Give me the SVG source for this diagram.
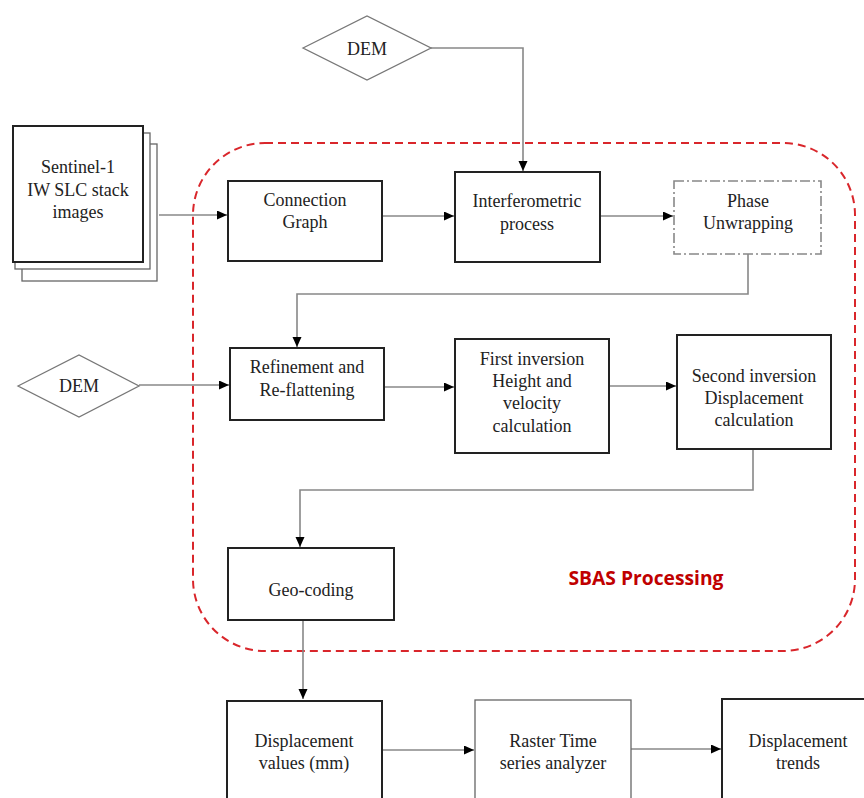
<svg xmlns="http://www.w3.org/2000/svg" width="864" height="798" viewBox="0 0 864 798">
<defs>
<marker id="arr" markerUnits="userSpaceOnUse" markerWidth="11" markerHeight="10" refX="10" refY="4.5" orient="auto">
<path d="M0,0 L10,4.5 L0,9 z" fill="#000"/>
</marker>
<style>
.t{font-family:"Liberation Serif","Times New Roman",serif;font-size:18px;fill:#222;text-anchor:middle}
.box{fill:#fff;stroke:#222;stroke-width:2}
.thin{fill:#fff;stroke:#666;stroke-width:1.3}
.dia{fill:#fff;stroke:#777;stroke-width:1.3}
.c{fill:none;stroke:#888;stroke-width:1.6}
</style>
</defs>
<rect width="864" height="798" fill="#fff"/>
<g id="sbas">
<rect x="193" y="143" width="662" height="508" rx="72" ry="72" fill="none" stroke="#d9262b" stroke-width="2" stroke-dasharray="8,5"/>
<text x="646" y="585" font-family="'Open Sans','Liberation Sans',sans-serif" font-weight="bold" font-size="19" fill="#c00000" text-anchor="middle" textLength="155" lengthAdjust="spacingAndGlyphs">SBAS Processing</text>
</g>
<g id="connectors">
<path class="c" d="M431,48 H523 V171" marker-end="url(#arr)"/>
<path class="c" d="M159,215 H227" marker-end="url(#arr)"/>
<path class="c" d="M382,216 H454" marker-end="url(#arr)"/>
<path class="c" d="M600,216 H673" marker-end="url(#arr)"/>
<path class="c" d="M748,254 V294 H297 V347" marker-end="url(#arr)"/>
<path class="c" d="M139,385 H229" marker-end="url(#arr)"/>
<path class="c" d="M384,387 H454" marker-end="url(#arr)"/>
<path class="c" d="M609,386 H676" marker-end="url(#arr)"/>
<path class="c" d="M753,449 V490 H300 V547" marker-end="url(#arr)"/>
<path class="c" d="M303,620 V699" marker-end="url(#arr)"/>
<path class="c" d="M382,750 H474" marker-end="url(#arr)"/>
<path class="c" d="M631,749 H721" marker-end="url(#arr)"/>
</g>
<g id="dem-top">
<polygon class="dia" points="303,48 367,16 431,48 367,80"/>
<text class="t" x="367" y="55" font-size="16.5">DEM</text>
</g>
<g id="sentinel">
<rect class="thin" x="22" y="144" width="135" height="137"/>
<rect class="thin" x="15" y="133" width="135" height="136"/>
<rect class="box" x="13" y="126" width="130" height="136" stroke-width="2.5"/>
<text class="t" x="78" y="173">Sentinel-1</text>
<text class="t" x="78" y="196">IW SLC stack</text>
<text class="t" x="78" y="218">images</text>
</g>
<g id="connection-graph">
<rect class="box" x="228" y="181" width="154" height="80"/>
<text class="t" x="305" y="206">Connection</text>
<text class="t" x="305" y="228">Graph</text>
</g>
<g id="interferometric">
<rect class="box" x="455" y="172" width="145" height="90" stroke-width="2.5"/>
<text class="t" x="527" y="207">Interferometric</text>
<text class="t" x="527" y="230">process</text>
</g>
<g id="phase-unwrapping">
<rect x="674" y="181" width="147" height="73" fill="#fff" stroke="#888" stroke-width="1.6" stroke-dasharray="10,3,2,3"/>
<text class="t" x="748" y="207">Phase</text>
<text class="t" x="748" y="229">Unwrapping</text>
</g>
<g id="dem-bottom">
<polygon class="dia" points="18,386 79,355 139,386 79,417"/>
<text class="t" x="79" y="392" font-size="15">DEM</text>
</g>
<g id="refinement">
<rect class="box" x="230" y="348" width="154" height="72"/>
<text class="t" x="307" y="373">Refinement and</text>
<text class="t" x="307" y="396">Re-flattening</text>
</g>
<g id="first-inversion">
<rect class="box" x="455" y="339" width="154" height="114"/>
<text class="t" x="532" y="365">First inversion</text>
<text class="t" x="532" y="387">Height and</text>
<text class="t" x="532" y="409">velocity</text>
<text class="t" x="532" y="432">calculation</text>
</g>
<g id="second-inversion">
<rect class="box" x="677" y="335" width="154" height="114"/>
<text class="t" x="754" y="382">Second inversion</text>
<text class="t" x="754" y="404">Displacement</text>
<text class="t" x="754" y="426">calculation</text>
</g>
<g id="geo-coding">
<rect class="box" x="228" y="548" width="166" height="72"/>
<text class="t" x="311" y="596">Geo-coding</text>
</g>
<g id="displacement-values">
<rect class="box" x="227" y="701" width="155" height="110"/>
<text class="t" x="304" y="747">Displacement</text>
<text class="t" x="304" y="769">values (mm)</text>
</g>
<g id="raster-analyzer">
<rect class="thin" x="475" y="700" width="156" height="110" stroke="#777"/>
<text class="t" x="553" y="747">Raster Time</text>
<text class="t" x="553" y="769">series analyzer</text>
</g>
<g id="displacement-trends">
<rect class="box" x="722" y="699" width="152" height="110"/>
<text class="t" x="798" y="747">Displacement</text>
<text class="t" x="798" y="769">trends</text>
</g>
</svg>
